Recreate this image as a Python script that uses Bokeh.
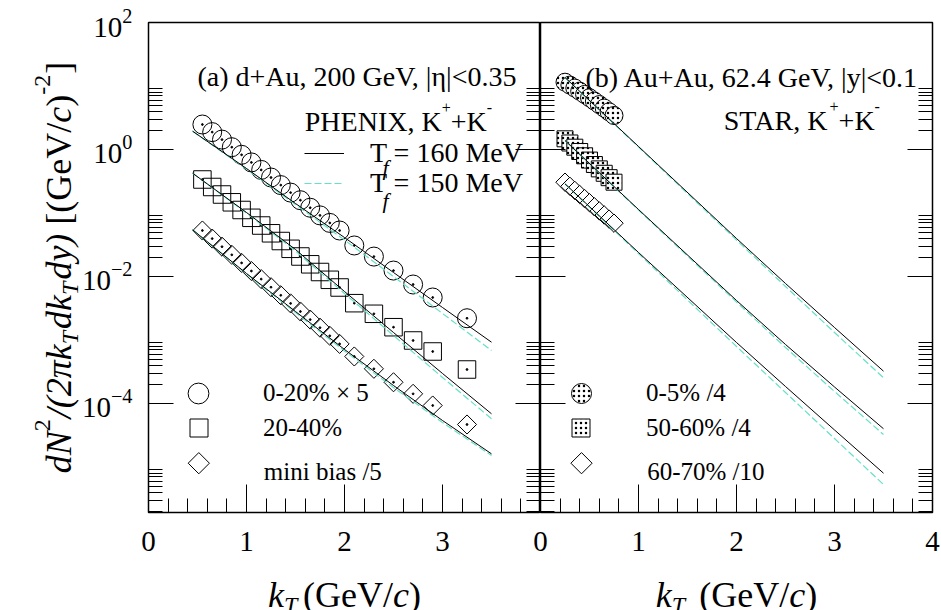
import math
from bokeh.plotting import figure
from bokeh.models import (FixedTicker, LogAxis, Label, Legend, LegendItem, Range1d,
                          CustomJSTickFormatter)
from bokeh.layouts import row, column
from bokeh.embed import file_html
from bokeh.resources import INLINE

# ---------------- data ----------------
# (a) PHENIX d+Au 200 GeV, K+ + K-
phx_kt = [0.55, 0.65, 0.75, 0.85, 0.95, 1.05, 1.15, 1.25, 1.35, 1.45, 1.55,
          1.65, 1.75, 1.85, 1.95, 2.1, 2.3, 2.5, 2.7, 2.9, 3.25]
phx_0_20 = [2.475, 1.879, 1.432, 1.087, 0.825, 0.626, 0.477, 0.362, 0.275, 0.2095, 0.159,
            0.121, 0.0917, 0.0698, 0.0530, 0.0308, 0.0206, 0.0124, 0.00748, 0.00467, 0.00220]
phx_20_40 = [0.337, 0.2567, 0.1955, 0.1474, 0.1115, 0.0840, 0.0635, 0.0479, 0.0362, 0.0273, 0.02065,
             0.01556, 0.01177, 0.00887, 0.00671, 0.0038, 0.002586, 0.00159, 0.000982, 0.000659, 0.000343]
phx_minbias = [0.0530, 0.03953, 0.02946, 0.02196, 0.01637, 0.0122, 0.0091, 0.00678, 0.00506, 0.00377, 0.00281,
               0.002096, 0.001562, 0.001164, 0.000868, 0.00055, 0.000352, 0.000216, 0.000142, 0.0000930, 0.0000467]

phx_fit_kt = [0.45, 1.0, 1.5, 2.0, 2.5, 3.0, 3.5]
phx_0_20_T160 = [1.942, 0.502, 0.1411, 0.0411, 0.01156, 0.003249, 0.000923]
phx_0_20_T150 = [1.942, 0.493, 0.1361, 0.03757, 0.0100, 0.002615, 0.000683]
phx_20_40_T160 = [0.4233, 0.1018, 0.02662, 0.005804, 0.001312, 0.000297, 0.0000688]
phx_20_40_T150 = [0.4233, 0.1, 0.02521, 0.0054, 0.001177, 0.0002567, 0.0000574]
phx_mb_T160 = [0.05436, 0.01115, 0.00281, 0.000709, 0.000192, 0.000054, 0.0000161]
phx_mb_T150 = [0.05436, 0.01095, 0.00271, 0.000671, 0.0001786, 0.0000502, 0.0000152]

# (b) STAR Au+Au 62.4 GeV, K+ + K-
star_kt = [0.25, 0.30, 0.35, 0.40, 0.45, 0.50, 0.55, 0.60, 0.65, 0.70, 0.75]
star_0_5 = [11.48, 10.33, 9.27, 8.28, 7.37, 6.54, 5.78, 5.10, 4.49, 3.92, 3.43]
star_50_60 = [1.474, 1.266, 1.087, 0.930, 0.796, 0.681, 0.580, 0.495, 0.422, 0.360, 0.3055]
star_60_70 = [0.3055, 0.2633, 0.2269, 0.1955, 0.1685, 0.1453, 0.1252, 0.1079, 0.0930, 0.0801, 0.0691]

star_fit_kt = [0.25, 1.0, 2.0, 2.5, 3.0, 3.5]
star_0_5_T160 = [13.61, 1.115, 0.03968, 0.00776, 0.001573, 0.000323]
star_0_5_T150 = [13.61, 1.095, 0.03757, 0.006959, 0.001312, 0.000254]
star_50_60_T160 = [1.386, 0.1135, 0.004188, 0.00085, 0.000182, 0.00004]
star_50_60_T150 = [1.386, 0.1115, 0.003967, 0.000762, 0.0001545, 0.0000325]
star_60_70_T160 = [0.2884, 0.02388, 0.000913, 0.0001852, 0.0000383, 0.00000799]
star_60_70_T150 = [0.2862, 0.02303, 0.00079, 0.000149, 0.0000281, 0.0000053]

# axes / ticks
x_major_a = [0, 1, 2, 3]
x_major_b = [0, 1, 2, 3, 4]
x_minor = [0.2, 0.4, 0.6, 0.8, 1.2, 1.4, 1.6, 1.8, 2.2, 2.4, 2.6, 2.8, 3.2, 3.4, 3.6, 3.8]
y_major = [1e-4, 1e-2, 1e0, 1e2]
y_minor_decades = [-6, -4, -2, 0]
y_minor = [m * 10.0 ** k for k in y_minor_decades for m in range(2, 10)]
X_RANGE = (0, 4)
Y_RANGE = (1.92e-6, 100)

# ---------------- style / layout constants ----------------
FONT = "Liberation Serif"
CYAN = "#66E0C8"
PAGE_W, PAGE_H = 941, 610
FW, FH = 392, 490
TOP = 22
A_LEFT = 148              # page x of panel (a) frame left (= width of the y-title strip)
A_BORDER = 72             # room for the y tick labels (overlaps the y-title strip)
XT_H = 50                 # height below the panels taken by the x-title strip
XT_OVER = 10              # the x-title strip also overlaps the panels' bottom border by this much
B_LEFT = A_LEFT + FW      # page x of panel (b) frame left
FRAME_BOTTOM = TOP + FH
B_OVERLAP = 20
BOTTOM_BORDER = PAGE_H - XT_H - FRAME_BOTTOM

LOG_SPAN = math.log10(Y_RANGE[1] / Y_RANGE[0])
PPD = FH / LOG_SPAN                                   # pixels per decade
Y1 = TOP + FH * math.log10(Y_RANGE[1] / 1.0) / LOG_SPAN   # page y of y = 1
PPX = FW / (X_RANGE[1] - X_RANGE[0])

W_R = {' ': 250, '(': 333, ')': 333, '[': 333, ']': 333, '/': 278, '-': 333, '+': 564, '=': 564,
       ',': 250, '.': 250, 'G': 722, 'e': 444, 'V': 722, 'K': 722, 'P': 556, 'H': 722, 'E': 611,
       'N': 722, 'I': 333, 'X': 722, 'S': 556, 'T': 611, 'A': 722, 'R': 667}
W_I = {'d': 500, 'N': 667, '/': 278, '(': 333, ')': 333, 'π': 500, 'k': 444, 'T': 556, 'y': 444,
       'c': 444, 'f': 278}


def tw(s, ital, size):
    tab = W_I if ital else W_R
    return sum(tab.get(ch, 500) for ch in s) * size / 1000.0


def mk_label(x, y, text, size, ital, angle, xo=0.0, yo=0.0):
    return Label(x=x, y=y, x_offset=xo, y_offset=yo, text=text, angle=angle,
                 text_font=FONT, text_font_style="italic" if ital else "normal",
                 text_font_size=f"{size}px", text_baseline="alphabetic", text_align="left",
                 text_color="black")


def put(p, left_page, text, X, Y, size, ital=False, angle=0.0):
    """Text inside a panel frame: anchored at (x=0, y=1) with pixel offsets."""
    p.add_layout(mk_label(0, 1, text, size, ital, angle, X - left_page, Y1 - Y))


def put_page(p, text, X, Y, size, ital=False, angle=0.0):
    """Text inside a title strip whose ranges are page pixels."""
    p.add_layout(mk_label(X, Y, text, size, ital, angle))


def seg_width(segs):
    return sum(tw(t, i, s) + g for t, i, s, sh, g in segs)


def put_segs(p, segs, X, Y, vertical=False):
    pos = 0.0
    for text, ital, size, shift, gap in segs:
        if vertical:
            put_page(p, text, X - shift, Y - pos, size, ital, angle=math.pi / 2)
        else:
            put_page(p, text, X + pos, Y - shift, size, ital)
        pos += tw(text, ital, size) + gap


def put_segs_panel(p, left_page, segs, X, Y):
    pos = 0.0
    for text, ital, size, shift, gap in segs:
        put(p, left_page, text, X + pos, Y - shift, size, ital)
        pos += tw(text, ital, size) + gap


def page_to_data(left_page, X, Y):
    return X_RANGE[0] + (X - left_page) / PPX, 10.0 ** ((Y1 - Y) / PPD)


def style_axis(ax, ticker, tin, min_in, show, size="29px", standoff=0):
    ax.ticker = ticker
    ax.axis_line_color = None
    ax.major_tick_in = tin
    ax.major_tick_out = 0
    ax.minor_tick_in = min_in
    ax.minor_tick_out = 0
    ax.major_tick_line_color = "black"
    ax.minor_tick_line_color = "black"
    ax.major_label_text_font = FONT
    ax.major_label_text_color = "black"
    ax.major_label_text_font_style = "normal"
    ax.major_label_text_font_size = size
    if show:
        ax.major_label_standoff = standoff
    else:
        ax.formatter = CustomJSTickFormatter(code="return ''")
        ax.major_label_standoff = 0


def base_fig(min_left, min_right):
    p = figure(frame_width=FW, frame_height=FH, x_range=Range1d(*X_RANGE), y_range=Range1d(*Y_RANGE),
               y_axis_type="log", min_border_left=min_left, min_border_right=min_right,
               min_border_top=TOP, min_border_bottom=BOTTOM_BORDER, toolbar_location=None,
               output_backend="svg", background_fill_color="white",
               outline_line_color="black", outline_line_width=1.5)
    p.grid.visible = False
    return p


def strip_fig(w, h, x0, y0):
    p = figure(width=w, height=h, x_range=Range1d(x0, x0 + w), y_range=Range1d(y0 + h, y0),
               x_axis_location=None, y_axis_location=None, toolbar_location=None,
               output_backend="svg", min_border=0, outline_line_color=None,
               background_fill_color="white", border_fill_color="white")
    p.grid.visible = False
    return p


def add_legend(p, frame_left, r, label, cx, cy, bw, bh, text_x, size):
    x0 = cx - bw / 2.0
    lg = Legend(items=[LegendItem(label=label, renderers=[r])],
                location=(int(round(x0 - frame_left)), int(round(FRAME_BOTTOM - (cy + bh / 2.0)))),
                glyph_width=int(bw), glyph_height=int(bh), label_standoff=int(text_x - (cx + bw / 2.0)),
                padding=0, margin=0, spacing=0, border_line_color=None, background_fill_alpha=0,
                label_text_font=FONT, label_text_font_size=f"{size}px", label_height=int(bh),
                label_text_color="black")
    p.add_layout(lg)


yt = FixedTicker(ticks=y_major, minor_ticks=y_minor)

# ---------------- panel (a) ----------------
p1 = base_fig(A_BORDER, 0)
p1.border_fill_color = None
p1.margin = (0, 0, 0, -A_BORDER)
style_axis(p1.yaxis[0], yt, 25, 14, True, size="29px", standoff=16)
ra = LogAxis()
p1.add_layout(ra, "right")
style_axis(ra, yt, 25, 14, False)
style_axis(p1.xaxis[0], FixedTicker(ticks=x_major_a, minor_ticks=x_minor), 28, 14, True, size="29px", standoff=19)

ca = p1.scatter(phx_kt, phx_0_20, marker="circle", size=19, line_color="black", line_width=1, fill_alpha=0)
sa = p1.scatter(phx_kt, phx_20_40, marker="square", size=17.5, line_color="black", line_width=1, fill_alpha=0)
da = p1.scatter(phx_kt, phx_minbias, marker="square", angle=math.pi / 4, size=13.5, line_color="black",
                line_width=1, fill_alpha=0)
for ys in (phx_0_20, phx_20_40, phx_minbias):
    p1.scatter(phx_kt, ys, marker="circle", size=1.8, color="black")

la = None
lb = None
for y160, y150 in ((phx_0_20_T160, phx_0_20_T150), (phx_20_40_T160, phx_20_40_T150), (phx_mb_T160, phx_mb_T150)):
    lb = p1.line(phx_fit_kt, y150, line_color=CYAN, line_width=1.2, line_dash="7 3")
    la = p1.line(phx_fit_kt, y160, line_color="black", line_width=1)

# line keys
add_legend(p1, A_LEFT, la, "T = 160 MeV", 324, 152.7, 40, 32, 370, 28)
add_legend(p1, A_LEFT, lb, "T = 150 MeV", 324, 182.7, 40, 32, 370, 28)
put(p1, A_LEFT, "f", 382, 167, 22, ital=True)
put(p1, A_LEFT, "f", 382, 200, 22, ital=True)

# marker keys
add_legend(p1, A_LEFT, ca, "0-20% × 5", 198.3, 393.3, 52, 52, 263.3, 25)
add_legend(p1, A_LEFT, sa, "20-40%", 198.3, 427.3, 45, 45, 263.3, 25)
kx, ky = page_to_data(A_LEFT, 198.3, 462.7)
p1.scatter([kx], [ky], marker="square", angle=math.pi / 4, size=15, line_color="black", line_width=1,
           fill_alpha=0)
put(p1, A_LEFT, "mini bias /5", 263.3, 471, 25)

put(p1, A_LEFT, "(a) d+Au, 200 GeV, |η|<0.35", 197, 76, 28)
kk_a = [("PHENIX, K", False, 28, 0, 0), ("+", False, 16, 14, 0), ("+K", False, 28, 0, 0), ("-", False, 16, 14, 0)]
put_segs_panel(p1, A_LEFT, kk_a, 304.3, 120.7)

# ---------------- panel (b) ----------------
p2 = base_fig(B_OVERLAP, 9)
p2.border_fill_color = None
p2.margin = (0, 0, 0, -B_OVERLAP)
style_axis(p2.yaxis[0], yt, 25, 14, False)
rb = LogAxis()
p2.add_layout(rb, "right")
style_axis(rb, yt, 25, 14, False)
style_axis(p2.xaxis[0], FixedTicker(ticks=x_major_b, minor_ticks=x_minor), 28, 14, True, size="29px", standoff=19)

hatch = dict(hatch_pattern="dot", hatch_scale=5, hatch_color="black", hatch_weight=1.8)
cb = p2.scatter(star_kt, star_0_5, marker="circle", size=18, line_color="black", line_width=1,
                fill_color="white", **hatch)
sb = p2.scatter(star_kt, star_50_60, marker="square", size=16, line_color="black", line_width=1,
                fill_color="white", **hatch)
db = p2.scatter(star_kt, star_60_70, marker="square", angle=math.pi / 4, size=13, line_color="black",
                line_width=1, fill_color="white")

for y160, y150 in ((star_0_5_T160, star_0_5_T150), (star_50_60_T160, star_50_60_T150),
                   (star_60_70_T160, star_60_70_T150)):
    p2.line(star_fit_kt, y150, line_color=CYAN, line_width=1.2, line_dash="7 3")
    p2.line(star_fit_kt, y160, line_color="black", line_width=1)

add_legend(p2, B_LEFT, cb, "0-5% /4", 581, 393.3, 50, 50, 646.7, 25)
add_legend(p2, B_LEFT, sb, "50-60% /4", 581, 427.7, 45, 45, 646.7, 25)
kx, ky = page_to_data(B_LEFT, 581, 462.7)
p2.scatter([kx], [ky], marker="square", angle=math.pi / 4, size=15, line_color="black", line_width=1,
           fill_color="white")
put(p2, B_LEFT, "60-70% /10", 646.7, 471, 25)

put(p2, B_LEFT, "(b) Au+Au, 62.4 GeV, |y|<0.1", 585, 77, 28)
kk_b = [("STAR, K", False, 28, 0, 0), ("+", False, 16, 14, 0), ("+K", False, 28, 0, 0), ("-", False, 16, 14, 0)]
put_segs_panel(p2, B_LEFT, kk_b, 723.3, 120)

# ---------------- title strips ----------------
yfig = strip_fig(A_LEFT, PAGE_H, 0, 0)
yt_segs = [("dN", True, 36, 0, 0), ("2", False, 24, 16, 1), ("/(2πk", True, 36, 0, 0), ("T", True, 24, -11, 2),
           ("dk", True, 36, 0, 0), ("T", True, 24, -11, 2), ("dy)", True, 36, 0, 9), ("[(GeV/", False, 36, 0, 0),
           ("c", True, 36, 0, 0), (")", False, 36, 0, 0), ("-2", False, 24, 16, 1), ("]", False, 36, 0, 0)]
put_segs(yfig, yt_segs, 58, TOP + FH / 2 + seg_width(yt_segs) / 2, vertical=True)

xfig = strip_fig(PAGE_W - A_LEFT, XT_H + XT_OVER, A_LEFT, PAGE_H - XT_H - XT_OVER)
xfig.background_fill_color = None
xfig.border_fill_color = None
xfig.margin = (-XT_OVER, 0, 0, 0)
xt_a = [("k", True, 36, 0, 0), ("T", True, 24, -10, 5.6), ("(GeV/", False, 36, 0, 0), ("c", True, 36, 0, 0),
        (")", False, 36, 0, 0)]
put_segs(xfig, xt_a, A_LEFT + FW / 2 - seg_width(xt_a) / 2, 594)
xt_b = [("k", True, 36, 0, 0), ("T", True, 24, -10, 14), ("(GeV/", False, 36, 0, 0), ("c", True, 36, 0, 0),
        (")", False, 36, 0, 0)]
put_segs(xfig, xt_b, B_LEFT + FW / 2 - seg_width(xt_b) / 2, 594)

layout = row(yfig, column(row(p1, p2), xfig))
open("out.html", "w").write(file_html(layout, INLINE))
